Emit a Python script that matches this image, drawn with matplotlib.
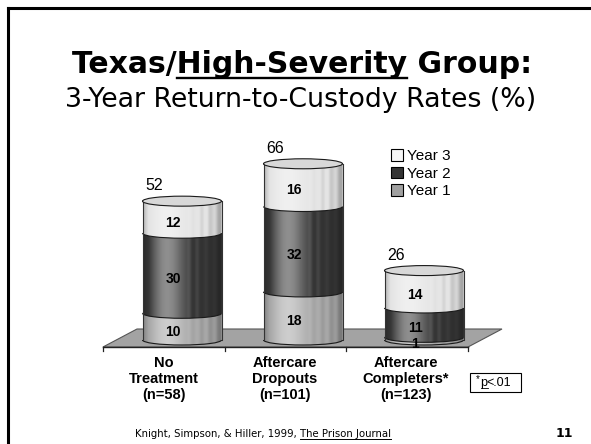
import numpy as np
import matplotlib.pyplot as plt
from matplotlib.patches import Ellipse, Arc, Polygon, PathPatch, Patch, Rectangle
from matplotlib.path import Path
from matplotlib.lines import Line2D

# data
groups = ['No\nTreatment\n(n=58)', 'Aftercare\nDropouts\n(n=101)', 'Aftercare\nCompleters*\n(n=123)']
year1 = [10, 18, 1]
year2 = [30, 32, 11]
year3 = [12, 16, 14]
totals = [52, 66, 26]
legend_names = ['Year 3', 'Year 2', 'Year 1']

colors = ['#a6a6a6', '#363636', '#e4e4e4']   # year 1, 2, 3
legend_colors = ['#f6f6f6', '#333333', '#a0a0a0']
ARIAL = 'Liberation Sans'
TAHOMA = 'DejaVu Sans'

W, H = 591, 444
fig = plt.figure(figsize=(W / 100, H / 100), dpi=100)
fig.patch.set_facecolor('white')


def fx(px):
    return px / W


def fy(py):
    return 1 - py / H


# slide frame (top and left rules)
fig.add_artist(Line2D([fx(8), 1], [fy(8), fy(8)], color='black', lw=2.2))
fig.add_artist(Line2D([fx(8), fx(8)], [fy(8), 0], color='black', lw=2.2))

# titles
t1 = fig.text(fx(302), fy(73), 'Texas/High-Severity Group:', ha='center', va='baseline',
              fontsize=21.5, fontweight='bold', family=TAHOMA)
t2 = fig.text(fx(301), fy(107), '3-Year Return-to-Custody Rates (%)', ha='center', va='baseline',
              fontsize=19.3, family=TAHOMA)

# axes laid out so that 1 category = 121 px and 1 % = 2.67 px
X0, Y0, SX, SY = 182, 340, 121, 2.67
ax_l, ax_r, ax_t, ax_b = 90, 540, 120, 360
ax = fig.add_axes([fx(ax_l), fy(ax_b), (ax_r - ax_l) / W, (ax_b - ax_t) / H])
xlim = ((ax_l - X0) / SX, (ax_r - X0) / SX)
ylim = ((Y0 - ax_b) / SY, (Y0 - ax_t) / SY)
ax.axis('off')

xpos = np.arange(len(groups))
bw = 79 / SX
eh = 10 / SY

# floor
fl_front, fl_back = -7 / SY, 11 / SY
fl_left, fl_right = xpos[0] - 79 / SX, xpos[-1] + 44 / SX
depth = 34 / SX
ax.add_patch(Polygon([(fl_left, fl_front), (fl_right, fl_front), (fl_right + depth, fl_back),
                      (fl_left + depth, fl_back)], closed=True, fc='#a3a3a3', ec='#555555',
                     lw=0.8, zorder=1))
ax.plot([fl_left, fl_right], [fl_front, fl_front], color='#222222', lw=1.0, zorder=1.5)
ticks = np.linspace(fl_left, fl_right, len(groups) + 1)
for tx in ticks:
    ax.plot([tx, tx], [fl_front, fl_front - 4 / SY], color='#222222', lw=0.9, zorder=1.5)

# shading overlay for cylinders
u = np.linspace(0, 1, 240)
shade = 0.45 * np.exp(-((u - 0.3) / 0.22) ** 2) - 0.28 * np.abs(2 * u - 1) ** 4
shade += 0.06 * np.sin(u * 57) * (u > 0.55)
rgba = np.zeros((1, len(u), 4))
rgba[0, :, :3] = (shade > 0)[:, None].astype(float)
rgba[0, :, 3] = np.clip(np.abs(shade), 0, 1)

t_lo = np.linspace(np.pi, 2 * np.pi, 60)
for i, x in enumerate(xpos):
    segs = [year1[i], year2[i], year3[i]]
    bottoms = np.concatenate([[0], np.cumsum(segs)[:-1]])
    for s, (h, b) in enumerate(zip(segs, bottoms)):
        ax.add_patch(Ellipse((x, b), bw, eh, fc=colors[s], ec='none', zorder=3))
        ax.bar(x, h, bw, bottom=b, color=colors[s], linewidth=0, zorder=3)
        ax.add_patch(Arc((x, b), bw, eh, theta1=180, theta2=360, color='#1a1a1a',
                         lw=0.8, zorder=4))
    top = totals[i]
    bx = x + bw / 2 * np.cos(t_lo)
    by = eh / 2 * np.sin(t_lo)
    verts = np.concatenate([np.column_stack([bx, by]),
                            np.column_stack([bx[::-1], top + by[::-1]])])
    clip = PathPatch(Path(np.vstack([verts, verts[:1]])), transform=ax.transData)
    im = ax.imshow(rgba, extent=(x - bw / 2, x + bw / 2, -eh, top + eh), aspect='auto',
                   zorder=3.5, interpolation='bilinear')
    im.set_clip_path(clip)
    ax.plot([x - bw / 2, x - bw / 2], [0, top], color='#333333', lw=0.8, zorder=4)
    ax.plot([x + bw / 2, x + bw / 2], [0, top], color='#333333', lw=0.8, zorder=4)
    ax.add_patch(Ellipse((x, top), bw, eh, fc='#d8d8d8', ec='#1a1a1a', lw=0.8, zorder=5))

    # labels
    ax.text(x - 0.23, top + 5.8, str(top), ha='center', va='center', fontsize=11.5,
            family=ARIAL, zorder=6)
    for h, b in zip(segs, bottoms):
        ax.text(x - 0.074, b + h / 2 - 2, str(h), ha='center', va='center', fontsize=10,
                fontweight='bold', family=ARIAL, zorder=6)
    ax.text(x - 0.15, -6.0, groups[i], ha='center', va='top', fontsize=10.5,
            fontweight='bold', family=ARIAL, linespacing=1.2)

ax.set_xlim(*xlim)
ax.set_ylim(*ylim)

# legend
handles = [Patch(fc=c, ec='black', lw=0.8) for c in legend_colors]
fig.legend(handles, legend_names, loc='upper left', bbox_to_anchor=(fx(391), fy(149)),
           frameon=False, prop={'family': ARIAL, 'size': 11}, handlelength=0.8,
           handleheight=0.8, handletextpad=0.25, labelspacing=0.22, borderpad=0,
           borderaxespad=0)

# significance note box
fig.add_artist(Rectangle((fx(470), fy(392)), fx(521) - fx(470), fy(373) - fy(392),
                         transform=fig.transFigure, fill=False, ec='black', lw=0.8))
fig.text(fx(476), fy(379), '*', fontsize=7, family=ARIAL, ha='left', va='center')
note_p = fig.text(fx(480.5), fy(383), 'p', fontsize=9, family=ARIAL, ha='left', va='center')
note_r = fig.text(fx(486), fy(383), '<.01', fontsize=9, family=ARIAL, ha='left', va='center')

# footer
foot = fig.text(fx(135), fy(437), 'Knight, Simpson, & Hiller, 1999, The Prison Journal',
                ha='left', va='baseline', fontsize=7.3, family=TAHOMA)
fig.text(fx(573), fy(437), '11', ha='right', va='baseline', fontsize=9, fontweight='bold',
         family=TAHOMA)

# underlines, measured from the rendered text
fig.canvas.draw()
rend = fig.canvas.get_renderer()


def width_of(txt, ref):
    tmp = fig.text(0, 0, txt, fontproperties=ref.get_fontproperties())
    w = tmp.get_window_extent(rend).width
    tmp.remove()
    return w


def underline(ref, start, part, y_px, lw):
    bb = ref.get_window_extent(rend)
    x0 = bb.x0 + (width_of(start, ref) if start else 0)
    x1 = x0 + width_of(part, ref)
    fig.add_artist(Line2D([x0 / W, x1 / W], [fy(y_px), fy(y_px)], color='black', lw=lw))


underline(t1, 'Texas/', 'High-Severity', 78, 1.7)
underline(foot, 'Knight, Simpson, & Hiller, 1999, ', 'The Prison Journal', 439, 0.7)
underline(note_p, '', 'p', 388, 0.6)

fig.savefig('out.png', dpi=100)
